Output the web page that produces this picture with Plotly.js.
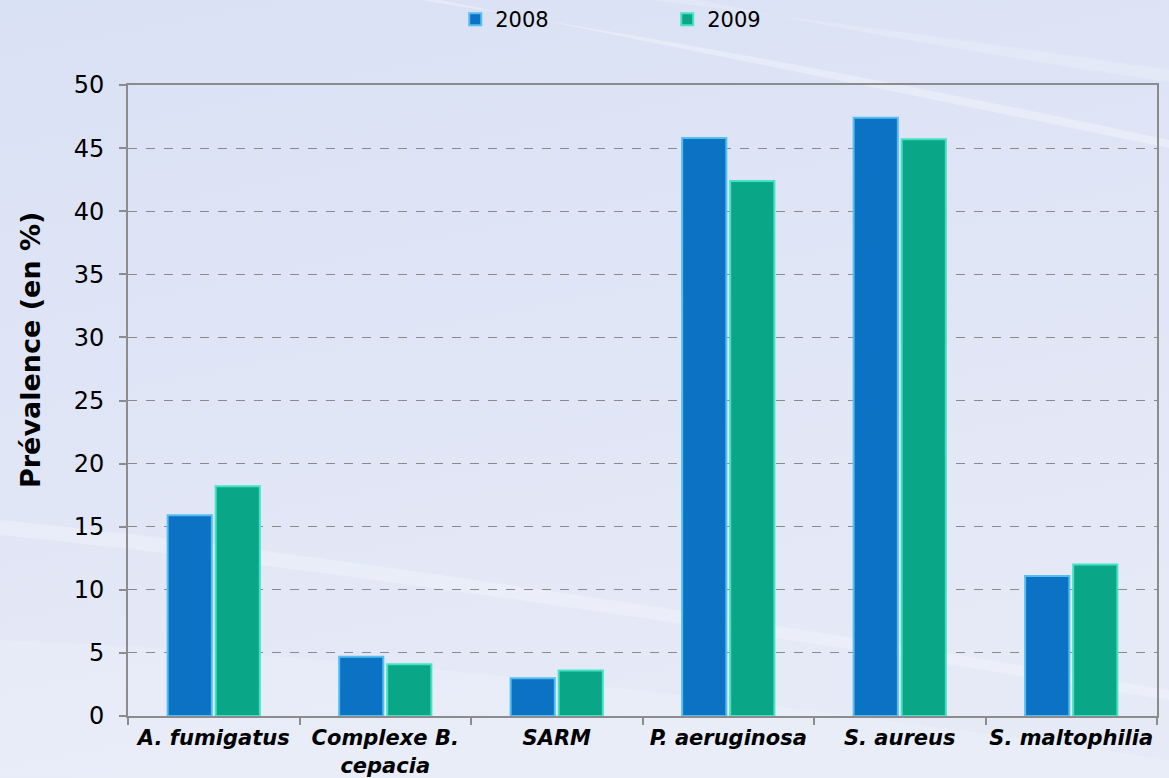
<!DOCTYPE html>
<html>
<head>
<meta charset="utf-8">
<script src="https://cdn.plot.ly/plotly-3.0.1.min.js"></script>
<style>
html,body{margin:0;padding:0;background:#dfe5f5;}
#chart{width:1169px;height:778px;}
</style>
</head>
<body>
<div id="chart"></div>
<script>
var categories = ["A. fumigatus", "Complexe B.<br>cepacia", "SARM", "P. aeruginosa", "S. aureus", "S. maltophilia"];
var seriesNames = ["2008", "2009"];
var values2008 = [15.9, 4.7, 3.0, 45.8, 47.4, 11.1];
var values2009 = [18.2, 4.1, 3.6, 42.4, 45.7, 12.0];
var yTicks = [0, 5, 10, 15, 20, 25, 30, 35, 40, 45, 50];
var yTitle = "Prévalence (en %)";

var bgSvg = '<svg xmlns="http://www.w3.org/2000/svg" width="1169" height="778" viewBox="0 0 1169 778">' +
  '<defs><linearGradient id="g" x1="0" y1="0" x2="0.3" y2="1">' +
  '<stop offset="0" stop-color="#d9e1f4"/><stop offset="0.6" stop-color="#e1e6f6"/><stop offset="1" stop-color="#e6eaf7"/></linearGradient></defs>' +
  '<rect width="1169" height="778" fill="url(#g)"/>' +
  '<path d="M0 520 Q400 560 1169 690 L1169 700 Q400 575 0 535 Z" fill="#ffffff" opacity="0.25"/>' +
  '<path d="M0 640 Q500 660 1169 760 L1169 778 L0 778 Z" fill="#ffffff" opacity="0.14"/>' +
  '<path d="M420 0 Q800 60 1169 140 L1169 148 Q800 72 440 0 Z" fill="#ffffff" opacity="0.3"/>' +
  '<path d="M650 0 Q900 30 1169 70 L1169 82 Q900 42 700 0 Z" fill="#ffffff" opacity="0.18"/>' +
  '</svg>';
var bgUri = 'data:image/svg+xml;charset=utf-8,' + encodeURIComponent(bgSvg);

var traces = [
  {
    type: 'bar', name: seriesNames[0], x: categories, y: values2008,
    marker: {color: '#0b72c4', line: {color: '#56bdf0', width: 2}}
  },
  {
    type: 'bar', name: seriesNames[1], x: categories, y: values2009,
    marker: {color: '#0aa688', line: {color: '#46e2c4', width: 2}}
  }
];

var layout = {
  width: 1169, height: 778,
  margin: {l: 128, r: 12, t: 85, b: 62, autoexpand: false},
  paper_bgcolor: '#dfe5f5',
  plot_bgcolor: 'rgba(0,0,0,0)',
  font: {family: 'DejaVu Sans, Verdana, sans-serif', color: '#000000', size: 20},
  barmode: 'group',
  bargap: 0.44,
  bargroupgap: 0.08,
  showlegend: true,
  legend: {
    orientation: 'h', x: 0.318, xanchor: 'left', y: 1 + 86/631, yanchor: 'top',
    font: {size: 21}, entrywidth: 167, entrywidthmode: 'pixels',
    bgcolor: 'rgba(0,0,0,0)', traceorder: 'normal'
  },
  images: [{
    source: bgUri, xref: 'paper', yref: 'paper',
    x: -128/1029, y: 1 + 85/631, sizex: 1169/1029, sizey: 778/631,
    xanchor: 'left', yanchor: 'top', sizing: 'stretch', layer: 'below'
  }],
  annotations: [{
    text: '<b>' + yTitle + '</b>', textangle: -90, showarrow: false,
    xref: 'paper', yref: 'paper', x: (30 - 128) / 1029, y: (716 - 350) / 631,
    xanchor: 'center', yanchor: 'middle', font: {size: 27, color: '#000000'}
  }],
  xaxis: {
    type: 'category', automargin: false, tickangle: 0,
    showline: true, linecolor: '#8c8c8c', linewidth: 2, mirror: true,
    ticks: 'outside', tickson: 'boundaries', ticklen: 7, tickcolor: '#8c8c8c', tickwidth: 2,
    ticklabelstandoff: 2,
    tickfont: {size: 21, weight: 'bold', style: 'italic'},
    showgrid: false, zeroline: false
  },
  yaxis: {
    range: [0, 50], tickvals: yTicks, ticktext: yTicks.map(String), automargin: false,
    showline: true, linecolor: '#8c8c8c', linewidth: 2, mirror: true,
    ticks: 'outside', ticklen: 7, tickcolor: '#8c8c8c', tickwidth: 2,
    ticklabelstandoff: 10,
    tickfont: {size: 24},
    showgrid: true, gridcolor: '#8a8a8a', gridwidth: 1, griddash: 'dash',
    zeroline: false
  }
};

Plotly.newPlot('chart', traces, layout, {displayModeBar: false, staticPlot: true});
</script>
</body>
</html>
